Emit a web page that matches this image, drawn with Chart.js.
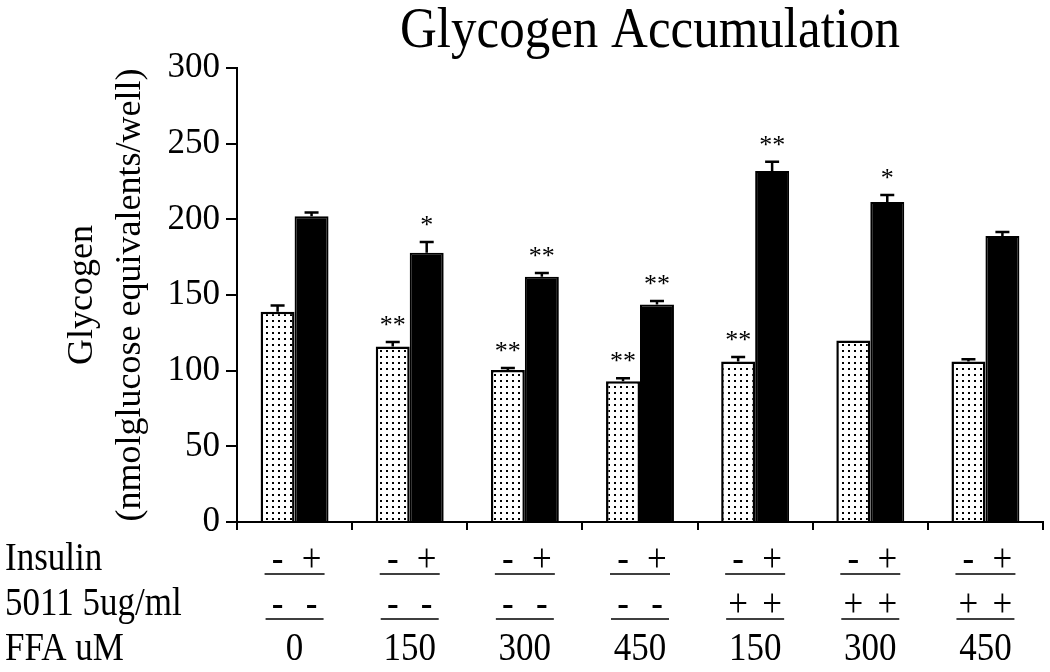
<!DOCTYPE html>
<html>
<head>
<meta charset="utf-8">
<script src="https://cdn.jsdelivr.net/npm/chart.js@4.4.0/dist/chart.umd.min.js"></script>
<style>
  html, body { margin: 0; padding: 0; background: #fff; }
  #wrap { width: 1050px; height: 672px; }
</style>
</head>
<body>
<div id="wrap"><canvas id="myChart" width="1050" height="672"></canvas></div>
<script>
// FFA concentration (uM) for each group
const ffa = ['0', '150', '300', '450', '150', '300', '450'];
// glycogen, nmol glucose equivalents / well
const basal = [139, 116, 100.5, 93, 106, 120, 106];
const basalErr = [4, 3, 1.2, 2, 3, 0, 1.5];
const insulin = [202, 178, 162, 143.7, 232, 211.5, 189];
const insulinErr = [2.5, 7, 2.6, 2.4, 6, 4.5, 2.7];
// significance marks
const basalStars = ['', '**', '**', '**', '**', '', ''];
const insulinStars = ['', '*', '**', '**', '**', '*', ''];
// table rows under the axis
const insulinRow = ['-', '+'];
const compoundRow = [['-', '-'], ['-', '-'], ['-', '-'], ['-', '-'], ['+', '+'], ['+', '+'], ['+', '+']];
const rowLabels = ['Insulin', '5011 5ug/ml', 'FFA uM'];
const yTicks = [0, 50, 100, 150, 200, 250, 300];

const serif = "'Liberation Serif', 'Times New Roman', serif";

// stippled fill for the basal bars
const tile = document.createElement('canvas');
tile.width = 6; tile.height = 6;
const tctx = tile.getContext('2d');
tctx.fillStyle = '#fff';
tctx.fillRect(0, 0, 6, 6);
tctx.fillStyle = '#000';
tctx.fillRect(2, 2, 2, 2);

const ctx = document.getElementById('myChart');
const dots = ctx.getContext('2d').createPattern(tile, 'repeat');

// the original's lettering is a bit taller than normal
function tallText(c, txt, x, y, sy) {
  c.save();
  c.translate(x, y);
  c.scale(1, sy);
  c.fillText(txt, 0, 0);
  c.restore();
}

const extras = {
  id: 'extras',
  afterDatasetsDraw(chart) {
    const c = chart.ctx;
    const y = chart.scales.y;
    const x = chart.scales.x;
    const vals = [basal, insulin];
    const errs = [basalErr, insulinErr];
    const stars = [basalStars, insulinStars];
    c.save();
    c.strokeStyle = '#000';
    c.fillStyle = '#000';

    // error bars + asterisks
    [0, 1].forEach(d => {
      chart.getDatasetMeta(d).data.forEach((bar, i) => {
        const top = y.getPixelForValue(vals[d][i] + errs[d][i]);
        if (errs[d][i] > 0) {
          c.lineWidth = 2.5;
          c.beginPath();
          c.moveTo(bar.x, bar.y);
          c.lineTo(bar.x, top);
          c.moveTo(bar.x - 7, top);
          c.lineTo(bar.x + 7, top);
          c.stroke();
        }
        if (stars[d][i]) {
          c.font = '26px ' + serif;
          c.textAlign = 'center';
          c.textBaseline = 'alphabetic';
          c.fillText(stars[d][i], bar.x, top - 9);
        }
      });
    });

    // title
    c.font = '51px ' + serif;
    c.textAlign = 'center';
    c.textBaseline = 'alphabetic';
    tallText(c, 'Glycogen Accumulation', 650, 47, 1.12);

    // treatment table
    c.font = '35px ' + serif;
    c.textAlign = 'left';
    tallText(c, rowLabels[0], 5, 570, 1.12);
    tallText(c, rowLabels[1], 5, 615, 1.12);
    tallText(c, rowLabels[2], 5, 660, 1.12);

    const b0 = chart.getDatasetMeta(0).data;
    const b1 = chart.getDatasetMeta(1).data;
    c.textAlign = 'center';
    c.lineWidth = 1.5;
    ffa.forEach((v, i) => {
      const cx = x.getPixelForValue(i);
      tallText(c, insulinRow[0], b0[i].x, 571, 1.12);
      tallText(c, insulinRow[1], b1[i].x, 571, 1.12);
      tallText(c, compoundRow[i][0], b0[i].x, 616, 1.12);
      tallText(c, compoundRow[i][1], b1[i].x, 616, 1.12);
      tallText(c, v, cx, 660, 1.12);
      c.beginPath();
      c.moveTo(cx - 30, 574); c.lineTo(cx + 30, 574);
      c.moveTo(cx - 29, 619); c.lineTo(cx + 29, 619);
      c.stroke();
    });
    c.restore();
  }
};

new Chart(ctx, {
  type: 'bar',
  data: {
    labels: ffa,
    datasets: [{
      label: 'Basal',
      data: basal,
      backgroundColor: dots,
      borderColor: '#000',
      borderWidth: 2.5,
      categoryPercentage: 0.59,
      barPercentage: 1.0
    }, {
      label: 'Insulin',
      data: insulin,
      backgroundColor: '#000',
      borderColor: '#000',
      borderWidth: 2,
      categoryPercentage: 0.59,
      barPercentage: 1.0
    }]
  },
  options: {
    responsive: false,
    animation: false,
    events: [],
    layout: { padding: { top: 68, right: 7, left: 0, bottom: 0 } },
    plugins: {
      legend: { display: false },
      title: { display: false },
      tooltip: { enabled: false }
    },
    scales: {
      x: {
        afterFit(scale) { scale.height = 150; },
        grid: { offset: true, drawOnChartArea: false, tickLength: 8, color: '#000', lineWidth: 2 },
        border: { display: true, color: '#000', width: 2 },
        ticks: { display: false }
      },
      y: {
        min: 0,
        max: 300,
        afterFit(scale) { scale.width = 237; },
        afterBuildTicks(scale) { scale.ticks = yTicks.map(v => ({ value: v })); },
        grid: { drawOnChartArea: false, tickLength: 11, color: '#000', lineWidth: 2 },
        border: { display: true, color: '#000', width: 2 },
        ticks: { color: '#000', padding: 6, font: { family: serif, size: 35 } },
        title: {
          display: true,
          text: ['Glycogen', '(nmolglucose equivalents/well)'],
          color: '#000',
          font: { family: serif, size: 36, lineHeight: 1.333 },
          padding: { top: 59, bottom: 0 }
        }
      }
    }
  },
  plugins: [extras]
});
</script>
</body>
</html>
